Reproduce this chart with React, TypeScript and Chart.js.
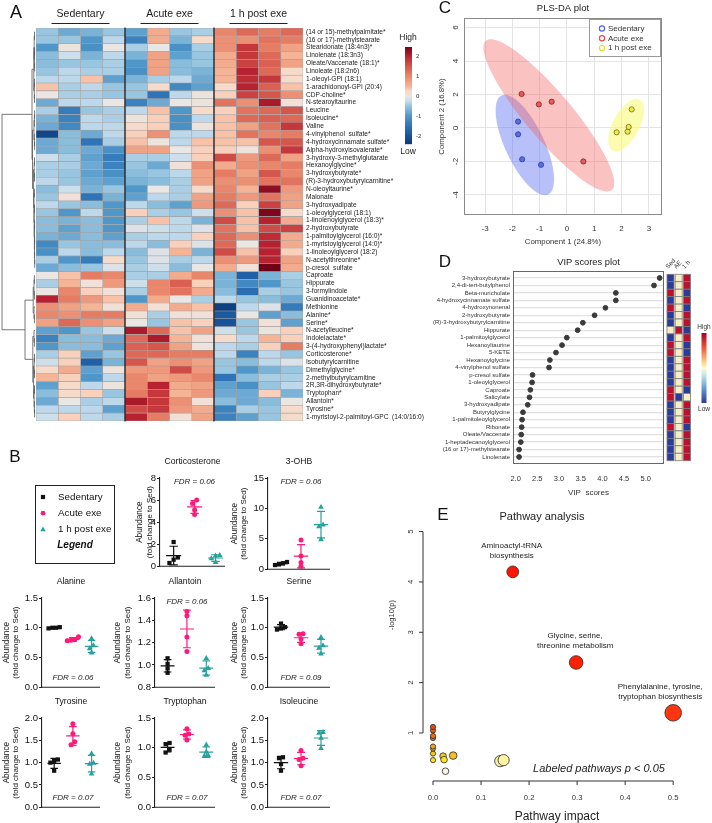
import React, { useEffect, useRef } from "react";
import { Chart, registerables } from "chart.js";

Chart.register(...registerables);

const FF = "'Liberation Sans', Arial, Helvetica, sans-serif";
const fnt = (size: number, style = "") => `${style} ${size}px ${FF}`.trim();

// ================= Panel A: heatmap =================
const heatRows = [
  "(14 or 15)-methylpalmitate*", "(16 or 17)-methylstearate", "Stearidonate (18:4n3)*", "Linolenate (18:3n3)",
  "Oleate/Vaccenate (18:1)*", "Linoleate (18:2n6)", "1-oleoyl-GPI (18:1)", "1-arachidonoyl-GPI (20:4)",
  "CDP-choline*", "N-stearoyltaurine", "Leucine", "Isoleucine*", "Valine", "4-vinylphenol  sulfate*",
  "4-hydroxycinnamate sulfate*", "Alpha-hydroxyisovalerate*", "3-hydroxy-3-methylglutarate", "Hexanoylglycine*",
  "3-hydroxybutyrate*", "(R)-3-hydroxybutyrylcarnitine*", "N-oleoyltaurine*", "Malonate", "3-hydroxyadipate",
  "1-oleoylglycerol (18:1)", "1-linolenoylglycerol (18:3)*", "2-hydroxybutyrate", "1-palmitoylglycerol (16:0)*",
  "1-myristoylglycerol (14:0)*", "1-linoleoylglycerol (18:2)", "N-acetylthreonine*", "p-cresol  sulfate",
  "Caproate", "Hippurate", "3-formylindole", "Guanidinoacetate*", "Methionine", "Alanine*", "Serine*",
  "N-acetylleucine*", "Indolelactate*", "3-(4-hydroxyphenyl)lactate*", "Corticosterone*", "Isobutyrylcarnitine",
  "Dimethylglycine*", "2-methylbutyrylcarnitine", "2R,3R-dihydroxybutyrate*", "Tryptophan*", "Allantoin*",
  "Tyrosine*", "1-myristoyl-2-palmitoyl-GPC  (14:0/16:0)",
];
const heatGroups = ["Sedentary", "Acute exe", "1 h post exe"];
const heatSamples = ["S1", "S2", "S3", "S4", "A1", "A2", "A3", "A4", "P1", "P2", "P3", "P4"];
const heatZ = [
  [-0.5, -0.8, -0.7, -0.5, -0.9, 0.6, -0.5, -0.4, 1.0, 1.3, 1.1, 1.3],
  [-0.5, -0.5, -1.0, -0.3, -1.3, 0.6, -0.7, 0.2, 0.9, 0.9, 1.2, 1.1],
  [-1.0, 0.05, -1.1, 0.0, -0.4, 0.0, -1.1, -0.4, 0.9, 1.8, 1.1, 0.7],
  [-0.6, -0.2, -0.7, -0.3, -0.7, 0.7, -0.9, -0.5, 0.6, 1.8, 1.3, 0.5],
  [-0.6, -0.5, -0.5, -0.4, -1.0, 0.7, -0.6, -0.5, 0.6, 1.7, 1.4, 0.7],
  [-0.5, -0.3, -0.4, -0.4, -1.1, 0.7, -0.6, -0.7, 0.5, 2.0, 1.3, 0.2],
  [-0.3, -0.3, 0.4, -0.9, -0.7, -0.4, -0.3, -0.8, 0.5, 1.9, 1.8, 0.2],
  [0.4, -0.4, -0.3, -0.5, -0.5, 0.2, -1.2, -0.9, 0.2, 2.0, 1.4, 0.4],
  [0.0, -0.4, -0.4, -0.5, -0.5, -1.5, -0.3, 0.05, 0.3, 1.7, 1.5, 0.9],
  [-0.8, -0.3, -0.3, 0.0, -1.3, -0.8, 0.0, 0.05, 1.2, 0.9, 2.1, 0.1],
  [-0.4, -1.4, -0.5, -0.4, -0.3, 0.4, -1.0, 0.2, 0.3, 1.2, 1.3, 1.5],
  [-0.7, -1.3, -0.3, -0.4, 0.05, 0.3, -1.1, -0.3, 0.4, 1.3, 1.4, 1.3],
  [-0.8, -1.2, -0.3, -0.3, 0.2, 0.3, -1.1, 0.05, 0.4, 0.7, 1.2, 1.8],
  [-2.2, -0.6, -0.8, -0.3, 0.3, 0.9, -0.3, -0.3, 0.4, 1.2, 1.0, 1.1],
  [-0.8, -0.6, -1.5, -0.4, 0.4, 0.05, -0.3, 0.4, 0.4, 0.4, 1.5, 1.5],
  [-0.8, -0.6, -0.8, -1.1, 0.7, 0.7, 0.0, 0.3, 0.3, 0.05, 0.9, 1.8],
  [-0.2, -0.4, -0.9, -1.4, -0.4, -0.4, -0.2, 0.3, 1.6, 0.8, 1.3, 0.7],
  [-0.4, -0.4, -0.8, -1.3, -0.5, -0.8, 0.1, 0.9, 0.6, 0.9, 1.0, 1.1],
  [-0.4, -0.5, -0.9, -1.1, -0.6, -0.5, -0.3, 0.7, 1.1, 0.7, 1.5, 1.0],
  [-0.3, -0.5, -0.8, -0.9, -0.7, -0.6, -0.4, 0.7, 0.9, 0.9, 1.2, 1.2],
  [-0.6, -0.2, -0.7, -0.5, -1.0, 0.0, -0.4, 0.2, 1.0, 0.5, 2.3, 0.8],
  [-0.5, 0.1, -1.5, -0.7, -0.9, -0.3, -0.4, 0.7, 1.1, 0.8, 1.2, 0.7],
  [-0.3, -0.5, -0.6, -1.0, -0.3, -0.6, -0.9, 0.8, 1.3, 0.3, 1.7, 0.7],
  [-0.5, -1.0, -0.3, -1.0, 0.3, -0.4, -0.5, -0.2, 0.9, 0.4, 2.4, 0.2],
  [-0.6, -0.7, -0.6, -1.0, -0.4, 0.4, -0.3, -0.7, 1.6, 0.4, 2.0, 0.6],
  [-0.6, -0.9, -0.6, -1.0, -0.1, -0.2, -0.3, -0.1, 1.2, 0.4, 1.6, 1.7],
  [-0.7, -0.8, -0.6, -0.9, -0.4, -0.3, -0.3, 0.3, 1.3, 0.9, 1.9, 0.6],
  [-1.2, -0.5, -0.6, -0.6, -0.3, -0.6, 0.3, -0.1, 1.3, 0.0, 2.0, 0.6],
  [-1.1, -0.3, -0.6, -0.3, -0.6, -0.1, 0.5, -0.7, 1.6, 0.4, 2.0, 0.3],
  [-0.4, -1.0, -1.4, 0.2, -0.5, -0.1, -0.4, -0.3, 0.9, 0.8, 2.0, 0.7],
  [-0.8, -0.6, -0.5, -0.1, -0.4, -0.2, -0.6, 0.0, 0.6, 0.1, 2.5, 0.6],
  [0.0, 0.4, 1.1, 1.0, -0.4, -0.4, 0.6, 1.0, -0.7, -1.8, -0.7, -0.4],
  [-0.4, 0.5, 0.1, 0.8, -0.2, 1.0, 1.4, 0.3, -0.7, -1.2, -1.0, -0.5],
  [0.0, 1.0, 0.3, 0.1, -0.4, 1.0, 1.2, 0.6, -0.6, -1.6, -0.4, -0.5],
  [2.0, 1.1, 0.8, 0.4, -1.0, 0.6, 0.0, -0.4, -0.3, -0.5, -0.6, -0.8],
  [0.9, 0.7, 0.5, 0.1, 0.6, 0.1, 0.6, 0.4, -2.3, -0.3, -0.1, -1.4],
  [1.0, 0.9, 1.1, 1.1, 0.1, -0.4, 0.1, 0.1, -1.9, 0.0, -0.9, -0.6],
  [0.7, 1.3, 0.9, 0.7, 0.0, -0.5, 0.4, 0.3, -2.0, -0.5, 0.1, -0.9],
  [-0.9, -1.0, -0.5, -0.2, 2.1, 1.3, 0.4, 0.7, -0.2, -0.5, 0.05, 0.3],
  [-1.3, -0.6, -0.6, -0.8, 1.3, 2.1, 0.5, 0.1, 0.2, -0.3, 0.5, 0.3],
  [-1.0, -0.6, -0.6, -0.9, 1.4, 1.5, 0.7, 0.05, -0.3, -0.4, 0.3, 1.1],
  [-0.4, 0.3, -0.9, -0.5, 1.3, 1.3, 1.1, 1.1, -0.3, -1.3, -0.3, -0.5],
  [-0.2, 0.3, -1.8, -0.7, 1.5, 0.7, 0.9, 0.7, -0.5, -0.6, -0.3, -0.1],
  [0.2, 0.6, -0.9, 0.05, 0.8, 0.8, 1.6, 0.8, -0.5, -1.0, -0.7, -0.5],
  [0.5, 0.3, -1.0, -0.3, 1.0, 0.7, 0.8, 1.0, -1.5, -0.6, -0.4, -0.4],
  [-0.9, 0.2, -0.3, 0.05, 1.0, 2.0, 0.6, 0.7, -0.9, -1.1, -0.5, -0.3],
  [-0.6, 0.2, 0.3, -0.5, 1.1, 1.8, 0.5, 0.8, -0.8, -0.8, 0.3, -0.7],
  [-0.8, 0.0, -0.4, -0.3, 2.1, 1.8, 0.9, 0.1, -0.6, -0.8, -0.6, 0.0],
  [-0.3, -0.3, -0.3, -0.9, 1.6, 1.8, 0.8, 0.6, -1.3, -0.4, -0.5, 0.2],
  [-0.2, 0.3, -0.3, -0.4, 2.0, 1.1, 0.1, 0.7, -1.3, -0.9, -0.5, 0.2],
];
const heatScaleTicks = [2, 1, 0, -1, -2];
// row dendrogram: [height, left, right], leaves = row index
const heatTree: any = [33,
  [3,
    [1.2, [0.8, [0.5, 0, 1], [0.6, [0.4, 2, 3], [0.4, 4, 5]]], [0.7, [0.5, 6, 7], [0.5, 8, 9]]],
    [2.5,
      [1.0, [0.6, [0.4, 10, 11], 12], [0.6, 13, [0.4, 14, 15]]],
      [1.4, [0.8, [0.5, 16, 17], [0.5, 18, 19]], [1.0, [0.6, 20, 21], [0.8, [0.5, 22, 23], [0.6, [0.4, 24, 25], [0.5, [0.4, 26, 27], [0.4, 28, [0.3, 29, 30]]]]]]],
    ],
  ],
  [10,
    [1.8, [1.0, [0.6, 31, 32], [0.6, 33, 34]], [1.0, 35, [0.6, 36, 37]]],
    [2.2, [1.0, 38, [0.6, 39, 40]], [1.4, [0.8, [0.5, 41, 42], [0.5, 43, 44]], [0.9, [0.5, 45, 46], [0.6, 47, [0.4, 48, 49]]]]],
  ],
];

// ================= Panel C: PLS-DA =================
const plsGroups = ["Sedentary", "Acute exe", "1 h post exe"];
const plsSed = [[-1.79, 0.38], [-1.79, -0.38], [-1.64, -1.87], [-0.95, -2.2]];
const plsAcute = [[-1.66, 2.03], [-1.03, 1.41], [-0.56, 1.57], [0.6, -2.0]];
const plsPost = [[1.82, -0.26], [2.22, -0.22], [2.26, 0.06], [2.37, 1.11]];

// ================= Panel D: VIP =================
const vipNames = [
  "3-hydroxybutyrate", "2,4-di-tert-butylphenol", "Beta-muricholate", "4-hydroxycinnamate sulfate", "4-hydroxynonenal",
  "2-hydroxybutyrate", "(R)-3-hydroxybutyrylcarnitine", "Hippurate", "1-palmitoylglycerol", "Hexanoyltaurine", "5-KETE",
  "Hexanoylglycine", "4-vinylphenol sulfate", "p-cresol sulfate", "1-oleoylglycerol", "Caproate", "Salicylate",
  "3-hydroxyadipate", "Butyrylglycine", "1-palmitoleoylglycerol", "Ribonate", "Oleate/Vaccenate",
  "1-heptadecanoylglycerol", "(16 or 17)-methylstearate", "Linolenate",
];
const vipScores = [5.32, 5.19, 4.31, 4.31, 4.07, 3.82, 3.55, 3.43, 3.18, 3.07, 2.93, 2.79, 2.77, 2.39, 2.38, 2.34, 2.32, 2.28, 2.17, 2.15, 2.14, 2.13, 2.12, 2.08, 2.08];
const vipColumns = ["Sed", "AE", "1 h"];
// relative level per group: 1 high, 0 middle, -1 low
const vipLevels = [
  [-1, 0, 1], [-1, 0, 1], [1, 0, -1], [-1, 0, 1], [1, 0, -1], [-1, 0, 1], [-1, 0, 1], [0, 1, -1], [-1, 0, 1], [1, 0, -1],
  [1, 0, -1], [-1, 0, 1], [-1, 0, 1], [-1, 0, 1], [-1, 0, 1], [1, 0, -1], [1, -1, 0], [-1, 0, 1], [-1, 0, 1], [-1, 0, 1],
  [1, 0, -1], [-1, 0, 1], [-1, 0, 1], [-1, 0, 1], [-1, 0, 1],
];

// ================= Panel B: dot plots (Sed, Acute, 1 h post) =================
const bGroups = ["Sedentary", "Acute exe", "1 h post exe"];
const corticosterone = [[2.2, 0.8, 0.6, 0.3], [6.0, 5.7, 5.1, 4.7], [1.0, 0.95, 0.7, 0.35]];
const hydroxybutyrate = [[1.2, 1.0, 0.8, 0.7], [4.8, 2.2, 1.1, 0.5], [10.2, 7.3, 7.0, 4.9]];
const alanine = [[1.01, 1.0, 0.99, 1.0], [0.85, 0.8, 0.79, 0.78], [0.82, 0.7, 0.65, 0.58]];
const allantoin = [[1.06, 1.01, 0.97, 0.93], [1.48, 1.44, 1.25, 1.12], [1.06, 0.97, 0.95, 0.91]];
const serine = [[1.07, 1.01, 0.99, 0.97], [0.9, 0.89, 0.81, 0.73], [0.84, 0.7, 0.66, 0.56]];
const tyrosine = [[1.07, 1.04, 1.0, 0.82], [1.87, 1.65, 1.47, 1.4], [1.2, 0.99, 0.97, 0.75]];
const tryptophan = [[1.08, 1.06, 0.97, 0.92], [1.32, 1.23, 1.21, 1.13], [1.05, 0.93, 0.87, 0.86]];
const isoleucine = [[1.12, 1.1, 0.97, 0.82], [1.27, 1.1, 1.07, 0.93], [1.68, 1.66, 1.55, 1.32]];
const bData = [corticosterone, hydroxybutyrate, alanine, allantoin, serine, tyrosine, tryptophan, isoleucine];
const bTitles = ["Corticosterone", "3-OHB", "Alanine", "Allantoin", "Serine", "Tyrosine", "Tryptophan", "Isoleucine"];
const bFdr = ["0.06", "0.06", "0.06", "0.06", "0.09", "0.07", "0.07", "0.07"];
// [min, max, step, decimals]
const bAxes = [[0, 8, 2, 0], [0, 15, 5, 0], [0, 1.5, 0.5, 1], [0.8, 1.6, 0.2, 1], [0, 1.5, 0.5, 1], [0, 2, 0.5, 1], [0, 1.5, 0.5, 1], [0, 2, 0.5, 1]];

// ================= Panel E: pathway analysis =================
const pathX = [0.026, 0.14, 0.147, 0, 0, 0, 0, 0, 0, 0, 0, 0.021, 0.023, 0.042, 0.166, 0.298, 0.5];
const pathY = [0.24, 0.44, 0.46, 0.46, 0.59, 0.69, 0.73, 0.9, 0.94, 1.05, 1.12, 0.54, 0.47, 0.55, 4.2, 2.4, 1.4];
const pathR = [3.3, 5.6, 5.6, 2.6, 2.6, 2.6, 2.6, 2.6, 2.6, 2.6, 2.6, 3.3, 3.3, 3.8, 5.9, 6.8, 8.3];
const pathXTicks = [0, 0.1, 0.2, 0.3, 0.4, 0.5];
const pathYTicks = [1, 2, 3, 4, 5];

// ================= styles =================
const pathFill = ["#fdf8d8", "#fbf3a4", "#fbf3a4", "#f8e51c", "#f6c51b", "#f2ad18", "#f0a018", "#ec7c12", "#ea7010", "#e65a10", "#e44d0e", "#f5cc1c", "#f9e51e", "#f3c01c", "#ff1500", "#ff2000", "#ff3510"];
const bColors = ["#111111", "#ff1a7a", "#26a19d"];
const bShapes = ["rect", "circle", "triangle"];
const bRadius = [3, 2.5, 3.3];
const plsFill = ["rgba(80,100,225,0.9)", "rgba(225,80,80,0.9)", "rgba(238,232,70,0.95)"];
const plsEdge = ["#2a3a9a", "#8a2222", "#6e6a20"];
const plsLegend = ["#4f62e8", "#e84a4a", "#dede30"];
const plsArea = ["rgba(95,115,240,0.45)", "rgba(245,95,95,0.38)", "rgba(250,250,110,0.55)"];
const HEAT_STOPS: [number, string][] = [
  [-2.4, "#0b3b78"], [-2, "#17539b"], [-1.5, "#2f74b6"], [-1, "#5097c9"], [-0.5, "#98c5e0"], [-0.25, "#c6ddec"],
  [0, "#eae6e3"], [0.25, "#f9d7c4"], [0.5, "#f5b496"], [1, "#e9876c"], [1.5, "#d5564b"], [2, "#b82230"], [2.5, "#6e0018"],
];
const VIP_COLORS: Record<string, string> = { "-1": "#2c3b98", "0": "#f8f0c4", "1": "#be0f2e" };

// ================= helpers =================
function hex(h: string) {
  return [parseInt(h.slice(1, 3), 16), parseInt(h.slice(3, 5), 16), parseInt(h.slice(5, 7), 16)];
}
function heatColor(v: number): string {
  const s = HEAT_STOPS;
  if (v <= s[0][0]) return s[0][1];
  if (v >= s[s.length - 1][0]) return s[s.length - 1][1];
  for (let i = 1; i < s.length; i++) {
    if (v <= s[i][0]) {
      const t = (v - s[i - 1][0]) / (s[i][0] - s[i - 1][0]);
      const a = hex(s[i - 1][1]);
      const b = hex(s[i][1]);
      return `rgb(${Math.round(a[0] + (b[0] - a[0]) * t)},${Math.round(a[1] + (b[1] - a[1]) * t)},${Math.round(a[2] + (b[2] - a[2]) * t)})`;
    }
  }
  return s[s.length - 1][1];
}
function T(ctx: CanvasRenderingContext2D, s: string, x: number, y: number, f: string, o: any = {}) {
  ctx.save();
  ctx.translate(x, y);
  if (o.r) ctx.rotate(o.r);
  ctx.font = f;
  ctx.fillStyle = o.c ?? "#222";
  ctx.textAlign = o.a ?? "center";
  ctx.textBaseline = o.b ?? "middle";
  ctx.fillText(s, 0, 0);
  ctx.restore();
}
function seg(ctx: CanvasRenderingContext2D, x1: number, y1: number, x2: number, y2: number) {
  ctx.beginPath();
  ctx.moveTo(x1, y1);
  ctx.lineTo(x2, y2);
  ctx.stroke();
}
function drawTree(ctx: CanvasRenderingContext2D, node: any, yOf: (i: number) => number, x0: number): { x: number; y: number } {
  if (typeof node === "number") return { x: x0, y: yOf(node) };
  const [h, a, b] = node;
  const A = drawTree(ctx, a, yOf, x0);
  const B = drawTree(ctx, b, yOf, x0);
  const x = x0 - h;
  ctx.moveTo(A.x, A.y);
  ctx.lineTo(x, A.y);
  ctx.lineTo(x, B.y);
  ctx.lineTo(B.x, B.y);
  return { x, y: (A.y + B.y) / 2 };
}
function ellipseOf(pts: number[][], k = 2.45, kMinor = 3.0) {
  const n = pts.length;
  const mx = pts.reduce((s, p) => s + p[0], 0) / n;
  const my = pts.reduce((s, p) => s + p[1], 0) / n;
  let sxx = 0, syy = 0, sxy = 0;
  pts.forEach(([x, y]) => {
    sxx += (x - mx) ** 2;
    syy += (y - my) ** 2;
    sxy += (x - mx) * (y - my);
  });
  sxx /= n - 1; syy /= n - 1; sxy /= n - 1;
  const tr = sxx + syy, det = sxx * syy - sxy * sxy;
  const d = Math.sqrt(Math.max((tr * tr) / 4 - det, 0));
  const l1 = tr / 2 + d, l2 = Math.max(tr / 2 - d, 0);
  let ux = sxy, uy = l1 - sxx;
  if (Math.abs(ux) + Math.abs(uy) < 1e-12) { ux = 1; uy = 0; }
  const un = Math.hypot(ux, uy);
  ux /= un; uy /= un;
  const a = k * Math.sqrt(l1), b = kMinor * Math.sqrt(l2);
  return { mx, my, ax: ux * a, ay: uy * a, bx: -uy * b, by: ux * b };
}
function meanSd(v: number[]) {
  const m = v.reduce((s, x) => s + x, 0) / v.length;
  const sd = Math.sqrt(v.reduce((s, x) => s + (x - m) ** 2, 0) / (v.length - 1));
  return [m, sd];
}
function jitter(v: number[], thr: number) {
  const idx = v.map((_, i) => i).sort((a, b) => v[a] - v[b]);
  const off = new Array(v.length).fill(0);
  let start = 0;
  for (let k = 1; k <= idx.length; k++) {
    if (k === idx.length || v[idx[k]] - v[idx[k - 1]] > thr) {
      const n = k - start;
      for (let j = start; j < k; j++) off[idx[j]] = (j - start - (n - 1) / 2) * 0.2;
      start = k;
    }
  }
  return off;
}

const base: any = {
  responsive: false,
  animation: false,
  devicePixelRatio: 1,
  events: [],
  plugins: { legend: { display: false }, tooltip: { enabled: false } },
};

// ================= A config =================
function heatConfig(): any {
  const heatDecor = {
    id: "heatDecor",
    afterDraw(chart: any) {
      const { ctx, chartArea: ca, scales } = chart;
      const x = scales.x, y = scales.y;
      ctx.save();
      ctx.strokeStyle = "#111";
      ctx.lineWidth = 1.2;
      [4, 8].forEach((v) => { const px = x.getPixelForValue(v); seg(ctx, px, ca.top - 0.5, px, ca.bottom + 0.5); });
      heatGroups.forEach((g, i) => {
        const cx = x.getPixelForValue(i * 4 + 2);
        T(ctx, g, cx, 14.5, fnt(10.5), { c: "#1a1a1a" });
        ctx.lineWidth = 1;
        ctx.strokeStyle = "#222";
        seg(ctx, cx - 29, 23.5, cx + 29, 23.5);
      });
      T(ctx, "A", 16, 13, fnt(18), { c: "#111" });
      ctx.strokeStyle = "#555";
      ctx.lineWidth = 0.8;
      ctx.beginPath();
      drawTree(ctx, heatTree, (i) => y.getPixelForValue(i), ca.left - 1);
      ctx.stroke();
      // colour key
      const top = 47, bot = 144, v0 = 2, p0 = 56, ppu = 20;
      for (let py = top; py < bot; py++) {
        ctx.fillStyle = heatColor(v0 - (py + 0.5 - p0) / ppu);
        ctx.fillRect(405, py, 7, 1.2);
      }
      heatScaleTicks.forEach((t) => T(ctx, String(t), 416, p0 + (v0 - t) * ppu, fnt(6), { a: "left", c: "#333" }));
      T(ctx, "High", 408, 38, fnt(8.5), { c: "#222" });
      T(ctx, "Low", 408, 152, fnt(8.5), { c: "#222" });
      ctx.restore();
    },
  };
  return {
    type: "bar",
    data: {
      labels: heatRows,
      datasets: heatSamples.map((_, c) => ({
        label: heatSamples[c],
        data: heatRows.map(() => 1),
        backgroundColor: heatZ.map((r) => heatColor(r[c])),
        borderColor: "#a3a3a3",
        borderWidth: 0.6,
        borderSkipped: false,
        barPercentage: 1,
        categoryPercentage: 1,
      })),
    },
    options: {
      ...base,
      indexAxis: "y",
      layout: { padding: { left: 36, top: 28, bottom: 9, right: 0 } },
      scales: {
        x: { type: "linear", stacked: true, min: 0, max: heatSamples.length, display: false },
        y: {
          stacked: true,
          position: "right",
          grid: { display: false, drawTicks: false },
          border: { display: false },
          ticks: { autoSkip: false, padding: 3, color: "#222", font: { size: 6.6, family: FF } },
          afterFit: (s: any) => { s.width = 127; },
        },
      },
    },
    plugins: [heatDecor],
  };
}

// ================= C config =================
function plsConfig(): any {
  const groups = [plsSed, plsAcute, plsPost];
  const plsDecor = {
    id: "plsDecor",
    beforeDatasetsDraw(chart: any) {
      const { ctx, scales } = chart;
      const xs = scales.x, ys = scales.y;
      ctx.save();
      groups.forEach((g, gi) => {
        const e = ellipseOf(g);
        ctx.beginPath();
        for (let k = 0; k <= 96; k++) {
          const t = (k / 96) * Math.PI * 2;
          const px = xs.getPixelForValue(e.mx + e.ax * Math.cos(t) + e.bx * Math.sin(t));
          const py = ys.getPixelForValue(e.my + e.ay * Math.cos(t) + e.by * Math.sin(t));
          if (k === 0) ctx.moveTo(px, py); else ctx.lineTo(px, py);
        }
        ctx.closePath();
        ctx.fillStyle = plsArea[gi];
        ctx.fill();
      });
      ctx.restore();
    },
    afterDraw(chart: any) {
      const { ctx, chartArea: ca, scales } = chart;
      const ys = scales.y;
      ctx.save();
      ctx.strokeStyle = "#8a8a8a";
      ctx.lineWidth = 1;
      ctx.strokeRect(ca.left + 0.5, ca.top + 0.5, ca.right - ca.left - 1, ca.bottom - ca.top - 1);
      ys.ticks.forEach((t: any) => T(ctx, String(t.value), 26, ys.getPixelForValue(t.value), fnt(8), { r: -Math.PI / 2, c: "#333" }));
      T(ctx, "Component 2 (16.8%)", 11.5, (ca.top + ca.bottom) / 2, fnt(7.8), { r: -Math.PI / 2, c: "#333" });
      T(ctx, "Component 1 (24.8%)", (ca.left + ca.right) / 2, 242, fnt(7.8), { c: "#333" });
      T(ctx, "PLS-DA plot", (ca.left + ca.right) / 2, 8, fnt(9.5), { c: "#222" });
      T(ctx, "C", 15, 8, fnt(17), { c: "#111" });
      // legend
      const lx = ca.right - 73, ly = ca.top + 1;
      ctx.fillStyle = "#fff";
      ctx.fillRect(lx, ly, 72, 38);
      ctx.strokeStyle = "#999";
      ctx.strokeRect(lx + 0.5, ly + 0.5, 71, 37);
      plsGroups.forEach((g, i) => {
        const yy = ly + 9.5 + i * 9.8;
        ctx.beginPath();
        ctx.arc(lx + 13, yy, 2.6, 0, Math.PI * 2);
        ctx.strokeStyle = plsLegend[i];
        ctx.lineWidth = 1.2;
        ctx.stroke();
        T(ctx, g, lx + 19, yy, fnt(8), { a: "left", c: "#333" });
      });
      ctx.restore();
    },
  };
  return {
    type: "scatter",
    data: {
      datasets: groups.map((g, i) => ({
        label: plsGroups[i],
        data: g.map(([x, y]) => ({ x, y })),
        pointRadius: 2.6,
        pointBackgroundColor: plsFill[i],
        pointBorderColor: plsEdge[i],
        pointBorderWidth: 0.8,
        clip: false,
      })),
    },
    options: {
      ...base,
      layout: { padding: { left: 0, right: 50, top: 18, bottom: 0 } },
      scales: {
        x: {
          type: "linear", min: -3.77, max: 3.48,
          ticks: { stepSize: 1, includeBounds: false, padding: 9, color: "#333", font: { size: 8, family: FF } },
          grid: { color: "#e4e4e4", drawTicks: false },
          border: { display: false },
          afterFit: (s: any) => { s.height = 37; },
        },
        y: {
          type: "linear", min: -5.2, max: 6.57,
          ticks: { stepSize: 2, includeBounds: false, display: false },
          grid: { color: "#e4e4e4", drawTicks: false },
          border: { display: false },
          afterFit: (s: any) => { s.width = 34; },
        },
      },
    },
    plugins: [plsDecor],
  };
}

// ================= D config =================
function vipConfig(): any {
  const vipDecor = {
    id: "vipDecor",
    afterDraw(chart: any) {
      const { ctx, chartArea: ca, scales } = chart;
      const ys = scales.y;
      ctx.save();
      ctx.strokeStyle = "#666";
      ctx.lineWidth = 1;
      ctx.strokeRect(ca.left + 0.5, ca.top + 0.5, ca.right - ca.left - 1, ca.bottom - ca.top - 1);
      const half = Math.abs(ys.getPixelForValue(2) - ys.getPixelForValue(1)) / 2;
      vipLevels.forEach((row, i) => {
        const yc = ys.getPixelForValue(i + 1);
        row.forEach((lv, j) => {
          const x0 = ca.right + 3 + j * 8.2;
          ctx.fillStyle = VIP_COLORS[String(lv)];
          ctx.fillRect(x0, yc - half, 7, half * 2);
          ctx.strokeStyle = "#7a7a7a";
          ctx.lineWidth = 0.8;
          ctx.strokeRect(x0, yc - half, 7, half * 2);
        });
      });
      vipColumns.forEach((c, j) => {
        T(ctx, c, ca.right + 4 + j * 8.2, ca.top - 2, fnt(6.2), { a: "left", b: "alphabetic", r: -0.8, c: "#333" });
      });
      // colour key
      const gx = 371.5, gt = 83, gb = 153;
      const grad = ctx.createLinearGradient(0, gt, 0, gb);
      grad.addColorStop(0, "#a50026");
      grad.addColorStop(0.22, "#f05a3a");
      grad.addColorStop(0.42, "#fdd58a");
      grad.addColorStop(0.5, "#fffbd0");
      grad.addColorStop(0.62, "#b8e0ee");
      grad.addColorStop(0.8, "#6098c8");
      grad.addColorStop(1, "#313695");
      ctx.fillStyle = grad;
      ctx.fillRect(gx, gt, 5, gb - gt);
      T(ctx, "High", gx + 2.5, gt - 6, fnt(6.5), { c: "#333" });
      T(ctx, "Low", gx + 2.5, gb + 6, fnt(6.5), { c: "#333" });
      T(ctx, "VIP scores plot", (ca.left + ca.right) / 2, 12, fnt(9.3), { c: "#222" });
      T(ctx, "VIP  scores", (ca.left + ca.right) / 2, 243, fnt(8), { c: "#333" });
      T(ctx, "D", 115, 12, fnt(17), { c: "#111" });
      ctx.restore();
    },
  };
  return {
    type: "scatter",
    data: {
      datasets: [{
        label: "VIP",
        data: vipScores.map((v, i) => ({ x: v, y: i + 1 })),
        pointRadius: 2.4,
        pointBackgroundColor: "#3a3a3a",
        pointBorderColor: "#3a3a3a",
        clip: false,
      }],
    },
    options: {
      ...base,
      layout: { padding: { left: 0, right: 48, top: 21, bottom: 0 } },
      scales: {
        x: {
          type: "linear", min: 1.94, max: 5.42,
          ticks: { stepSize: 0.5, includeBounds: false, padding: 10, color: "#333", font: { size: 7.5, family: FF }, callback: (v: any) => Number(v).toFixed(1) },
          grid: { display: false, drawTicks: false },
          border: { display: false },
          afterFit: (s: any) => { s.height = 41; },
        },
        y: {
          type: "linear", reverse: true, min: 0.06, max: 25.94,
          ticks: { stepSize: 1, includeBounds: false, autoSkip: false, padding: 3, color: "#333", font: { size: 6, family: FF }, callback: (v: any) => vipNames[Math.round(v) - 1] ?? "" },
          grid: { color: "#e0e0e0", lineWidth: 1.2, drawTicks: false },
          border: { display: false },
          afterFit: (s: any) => { s.width = 183; },
        },
      },
    },
    plugins: [vipDecor],
  };
}

// ================= E config =================
function pathConfig(): any {
  const notes = [
    { i: 14, dx: -1 },
    { i: 15, dx: -1 },
    { i: 16, dx: -13 },
  ];
  const noteLines = [["Aminoactyl-tRNA", "biosynthesis"], ["Glycine, serine,", "threonine metabolism"], ["Phenylalanine, tyrosine,", "tryptophan biosynthesis"]];
  const pathDecor = {
    id: "pathDecor",
    afterDraw(chart: any) {
      const { ctx, chartArea: ca, scales } = chart;
      const xs = scales.x, ys = scales.y;
      ctx.save();
      ctx.strokeStyle = "#333";
      ctx.lineWidth = 1;
      const axX = ca.left - 5;
      seg(ctx, axX, ys.getPixelForValue(pathYTicks[0]), axX, ys.getPixelForValue(pathYTicks[pathYTicks.length - 1]));
      pathYTicks.forEach((v) => {
        const py = ys.getPixelForValue(v);
        seg(ctx, axX, py, axX - 4, py);
        T(ctx, String(v), axX - 12, py, fnt(7.7), { r: -Math.PI / 2, c: "#333" });
      });
      const axY = ca.bottom + 5;
      seg(ctx, xs.getPixelForValue(pathXTicks[0]), axY, xs.getPixelForValue(pathXTicks[pathXTicks.length - 1]), axY);
      pathXTicks.forEach((v) => {
        const px = xs.getPixelForValue(v);
        seg(ctx, px, axY, px, axY + 4);
        T(ctx, v.toFixed(1), px, axY + 17, fnt(7.7), { c: "#333" });
      });
      notes.forEach((n, k) => {
        const px = xs.getPixelForValue(pathX[n.i]) + n.dx;
        const py = ys.getPixelForValue(pathY[n.i]);
        T(ctx, noteLines[k][0], px, py - 26.5, fnt(8), { c: "#222" });
        T(ctx, noteLines[k][1], px, py - 16.5, fnt(8), { c: "#222" });
      });
      T(ctx, "Pathway analysis", 162, 12, fnt(11), { c: "#222" });
      T(ctx, "E", 63, 10, fnt(17), { c: "#111" });
      T(ctx, "Pathway impact", 177, 312, fnt(12), { c: "#222" });
      T(ctx, "-log10(p)", 11.5, 110, fnt(7.5), { r: -Math.PI / 2, c: "#333" });
      T(ctx, "Labeled pathways p < 0.05", 219, 264, fnt(11, "italic"), { c: "#222" });
      ctx.restore();
    },
  };
  return {
    type: "bubble",
    data: {
      datasets: [{
        label: "pathways",
        data: pathX.map((x, i) => ({ x, y: pathY[i], r: pathR[i] })),
        backgroundColor: pathFill,
        borderColor: "#2a2a2a",
        borderWidth: 0.8,
        clip: false,
      }],
    },
    options: {
      ...base,
      layout: { padding: { left: 48, right: 22, top: 15, bottom: 47 } },
      scales: {
        x: { type: "linear", min: -0.0104, max: 0.535, display: false },
        y: { type: "linear", min: 0.145, max: 5.23, display: false },
      },
    },
    plugins: [pathDecor],
  };
}

// ================= B config =================
const bLayout = [
  { ax: 160, xe: 225, yt: 478, yb: 567, t1: 140, t2: 150, top: true, cl: 0, ct: 440, legend: true },
  { ax: 268, xe: 330, yt: 478, yb: 570, t1: 235, t2: 244, top: true },
  { ax: 42, xe: 100, yt: 598, yb: 688, t1: 7, t2: 16, top: false },
  { ax: 155, xe: 215, yt: 598, yb: 688, t1: 118, t2: 128, top: true },
  { ax: 268, xe: 330, yt: 598, yb: 688, t1: 235, t2: 244, top: false },
  { ax: 42, xe: 100, yt: 718, yb: 808, t1: 7, t2: 16, top: false },
  { ax: 155, xe: 215, yt: 718, yb: 808, t1: 118, t2: 128, top: false },
  { ax: 268, xe: 330, yt: 718, yb: 808, t1: 235, t2: 244, top: false },
];
function bBox(i: number) {
  const L: any = bLayout[i];
  const cl = L.cl ?? L.ax - 50;
  const ct = L.ct ?? L.yt - 24;
  return { x: cl, y: ct, w: L.xe + 6 - cl, h: L.yb + 6 - ct };
}
function drawMarker(ctx: CanvasRenderingContext2D, k: number, x: number, y: number) {
  ctx.fillStyle = bColors[k];
  ctx.beginPath();
  if (k === 0) ctx.rect(x - 2.1, y - 2.1, 4.2, 4.2);
  else if (k === 1) ctx.arc(x, y, 2.4, 0, Math.PI * 2);
  else { ctx.moveTo(x, y - 3); ctx.lineTo(x + 2.7, y + 1.8); ctx.lineTo(x - 2.7, y + 1.8); ctx.closePath(); }
  ctx.fill();
}
function dotConfig(i: number): any {
  const L: any = bLayout[i];
  const box = bBox(i);
  const [yMin, yMax, yStep, dec] = bAxes[i];
  const vals = bData[i];
  const pts = vals.map((g, gi) => {
    const off = jitter(g, (yMax - yMin) * 0.04);
    return {
      label: bGroups[gi],
      data: g.map((v, k) => ({ x: gi + 1 + off[k], y: v })),
      pointStyle: bShapes[gi],
      pointRadius: bRadius[gi],
      pointBackgroundColor: bColors[gi],
      pointBorderColor: bColors[gi],
      pointBorderWidth: 0,
      clip: false,
    };
  });
  const bars = vals.map((g, gi) => {
    const [m, s] = meanSd(g);
    const c = gi + 1;
    return {
      label: bGroups[gi] + " mean±SD",
      data: [
        { x: c - 0.36, y: m }, { x: c + 0.36, y: m }, { x: c, y: null },
        { x: c, y: m - s }, { x: c, y: m + s }, { x: c, y: null },
        { x: c - 0.2, y: m + s }, { x: c + 0.2, y: m + s }, { x: c, y: null },
        { x: c - 0.2, y: m - s }, { x: c + 0.2, y: m - s },
      ],
      showLine: true,
      spanGaps: false,
      pointRadius: 0,
      borderColor: bColors[gi],
      borderWidth: 1.2,
      clip: false,
    };
  });
  const decor = {
    id: "bDecor" + i,
    afterDraw(chart: any) {
      const { ctx, chartArea: ca } = chart;
      ctx.save();
      ctx.strokeStyle = "#222";
      ctx.lineWidth = 1.1;
      seg(ctx, ca.left, ca.bottom, ca.right, ca.bottom);
      const cx = (ca.left + ca.right) / 2;
      T(ctx, bTitles[i], cx, ca.top - 16, fnt(8.6), { c: "#111" });
      T(ctx, "FDR = " + bFdr[i], cx + 2, L.top ? ca.top + 4 : ca.bottom - 10, fnt(8, "italic"), { c: "#222" });
      const yc = (ca.top + ca.bottom) / 2;
      T(ctx, "Abundance", L.t1 - box.x, yc, fnt(8.2), { r: -Math.PI / 2, c: "#111" });
      T(ctx, "(fold change to Sed)", L.t2 - box.x, yc, fnt(8), { r: -Math.PI / 2, c: "#111" });
      if (L.legend) {
        T(ctx, "B", 15, 17, fnt(17), { c: "#111" });
        ctx.strokeStyle = "#222";
        ctx.lineWidth = 1;
        ctx.strokeRect(35.5, 45.5, 79, 78);
        bGroups.forEach((g, k) => {
          const yy = 57 + k * 16.2;
          drawMarker(ctx, k, 43, yy);
          T(ctx, g, 58, yy, fnt(9.8), { a: "left", c: "#111" });
        });
        T(ctx, "Legend", 75, 105, fnt(10, "italic bold"), { c: "#111" });
      }
      ctx.restore();
    },
  };
  return {
    type: "scatter",
    data: { datasets: [...pts, ...bars] },
    options: {
      ...base,
      layout: { padding: { left: 0, right: box.x + box.w - L.xe, top: L.yt - box.y, bottom: box.y + box.h - L.yb } },
      scales: {
        x: { type: "linear", min: 0.35, max: 3.45, display: false },
        y: {
          type: "linear", min: yMin, max: yMax,
          ticks: { stepSize: yStep, color: "#111", padding: 1, font: { size: 9.5, family: FF }, callback: (v: any) => (dec ? Number(v).toFixed(dec) : String(v)) },
          grid: { drawOnChartArea: false, tickLength: 3, color: "#222", lineWidth: 1 },
          border: { color: "#222", width: 1.1 },
          afterFit: (s: any) => { s.width = L.ax - box.x; },
        },
      },
    },
    plugins: [decor],
  };
}

// ================= components =================
function ChartBox({ x, y, w, h, make }: { x: number; y: number; w: number; h: number; make: () => any }) {
  const ref = useRef<HTMLCanvasElement>(null);
  useEffect(() => {
    const chart = new Chart(ref.current as HTMLCanvasElement, make());
    return () => chart.destroy();
  }, []);
  return <canvas ref={ref} width={w} height={h} style={{ position: "absolute", left: x, top: y, width: w, height: h }} />;
}

export default function App() {
  return (
    <div style={{ position: "absolute", left: 0, top: 0, width: 712, height: 823, background: "#fff", overflow: "hidden" }}>
      <ChartBox x={0} y={0} w={430} h={430} make={heatConfig} />
      <ChartBox x={430} y={0} w={282} h={252} make={plsConfig} />
      <ChartBox x={330} y={250} w={382} h={255} make={vipConfig} />
      <ChartBox x={380} y={505} w={332} h={318} make={pathConfig} />
      {bLayout.map((_, i) => {
        const b = bBox(i);
        return <ChartBox key={i} x={b.x} y={b.y} w={b.w} h={b.h} make={() => dotConfig(i)} />;
      })}
    </div>
  );
}
